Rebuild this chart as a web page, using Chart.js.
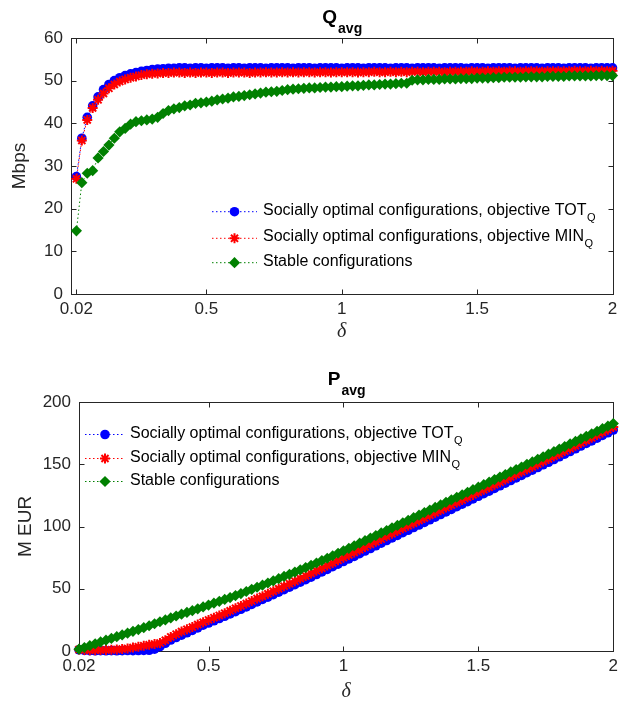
<!DOCTYPE html>
<html lang="en">
<head>
<meta charset="UTF-8">
<title>Q avg / P avg</title>
<script src="https://cdn.jsdelivr.net/npm/chart.js@4.4.1/dist/chart.umd.min.js"></script>
<style>
  html, body { margin: 0; padding: 0; background: #fff; }
  body { width: 623px; height: 703px; position: relative; overflow: hidden; }
  .box { position: absolute; left: 0; width: 623px; }
  #top { top: 0; height: 345px; }
  #bottom { top: 350px; height: 356px; }
</style>
</head>
<body>
<div class="box" id="top"><canvas id="qChart"></canvas></div>
<div class="box" id="bottom"><canvas id="pChart"></canvas></div>
<script>
// delta values (x axis)
var delta = [
  0.02, 0.04, 0.06, 0.08, 0.10, 0.12, 0.14, 0.16, 0.18, 0.20,
  0.22, 0.24, 0.26, 0.28, 0.30, 0.32, 0.34, 0.36, 0.38, 0.40,
  0.42, 0.44, 0.46, 0.48, 0.50, 0.52, 0.54, 0.56, 0.58, 0.60,
  0.62, 0.64, 0.66, 0.68, 0.70, 0.72, 0.74, 0.76, 0.78, 0.80,
  0.82, 0.84, 0.86, 0.88, 0.90, 0.92, 0.94, 0.96, 0.98, 1.00,
  1.02, 1.04, 1.06, 1.08, 1.10, 1.12, 1.14, 1.16, 1.18, 1.20,
  1.22, 1.24, 1.26, 1.28, 1.30, 1.32, 1.34, 1.36, 1.38, 1.40,
  1.42, 1.44, 1.46, 1.48, 1.50, 1.52, 1.54, 1.56, 1.58, 1.60,
  1.62, 1.64, 1.66, 1.68, 1.70, 1.72, 1.74, 1.76, 1.78, 1.80,
  1.82, 1.84, 1.86, 1.88, 1.90, 1.92, 1.94, 1.96, 1.98, 2.00
];

// Q_avg (Mbps)
var qTot = [
  27.5, 36.5, 41.4, 44.1, 46.2, 47.9, 49.1, 50.0, 50.7, 51.2,
  51.6, 51.9, 52.2, 52.4, 52.6, 52.7, 52.8, 52.9, 52.9, 53.0,
  53.0, 52.9, 53.0, 53.0, 52.9, 53.0, 53.0, 53.0, 52.9, 53.0,
  53.0, 52.9, 53.0, 53.0, 53.0, 52.9, 53.0, 53.0, 53.0, 53.0,
  52.9, 53.0, 53.0, 53.0, 52.9, 53.0, 53.0, 53.0, 53.0, 52.9,
  53.0, 53.0, 53.0, 52.9, 53.0, 53.0, 53.0, 53.0, 52.9, 53.0,
  53.0, 53.0, 52.9, 53.0, 53.0, 53.0, 53.0, 52.9, 53.0, 53.0,
  53.0, 53.0, 52.9, 53.0, 53.0, 53.0, 52.9, 53.0, 53.0, 53.0,
  53.0, 52.9, 53.0, 53.0, 53.0, 53.0, 52.9, 53.0, 53.0, 53.0,
  52.9, 53.0, 53.0, 53.0, 53.0, 52.9, 53.0, 53.0, 53.0, 53.0
];
var qMin = [
  27.0, 36.0, 40.8, 43.6, 45.5, 47.0, 48.2, 49.1, 49.8, 50.3,
  50.7, 51.0, 51.3, 51.5, 51.6, 51.7, 51.8, 51.8, 51.9, 51.9,
  51.8, 51.9, 51.8, 51.9, 51.9, 51.8, 51.9, 51.9, 51.8, 51.9,
  51.9, 51.9, 51.8, 51.9, 51.9, 52.0, 51.9, 51.9, 52.0, 51.9,
  52.0, 51.9, 52.0, 52.0, 51.9, 52.0, 52.0, 51.9, 52.0, 52.0,
  52.0, 52.0, 51.9, 52.0, 52.0, 52.1, 52.0, 52.0, 52.1, 52.0,
  52.1, 52.0, 52.1, 52.1, 52.0, 52.1, 52.1, 52.1, 52.0, 52.1,
  52.1, 52.1, 52.1, 52.2, 52.1, 52.1, 52.2, 52.1, 52.2, 52.1,
  52.2, 52.2, 52.1, 52.2, 52.2, 52.2, 52.1, 52.2, 52.2, 52.2,
  52.2, 52.2, 52.3, 52.2, 52.2, 52.3, 52.2, 52.3, 52.2, 52.3
];
var qStable = [
  14.8, 26.1, 28.3, 28.9, 31.9, 33.4, 34.9, 36.5, 38.0, 38.8,
  39.8, 40.4, 40.6, 40.8, 41.0, 41.4, 42.3, 43.0, 43.4, 43.7,
  44.1, 44.3, 44.7, 44.8, 45.0, 45.2, 45.5, 45.7, 45.9, 46.2,
  46.3, 46.5, 46.7, 46.9, 47.1, 47.3, 47.4, 47.5, 47.7, 47.9,
  48.0, 48.1, 48.2, 48.3, 48.3, 48.4, 48.5, 48.5, 48.6, 48.6,
  48.7, 48.8, 48.8, 48.9, 49.0, 49.0, 49.1, 49.2, 49.2, 49.3,
  49.4, 49.4, 50.1, 50.2, 50.2, 50.3, 50.3, 50.3, 50.4, 50.4,
  50.4, 50.5, 50.5, 50.5, 50.6, 50.6, 50.6, 50.7, 50.7, 50.8,
  50.8, 50.8, 50.8, 50.9, 50.9, 50.9, 50.9, 51.0, 51.0, 51.0,
  51.0, 51.1, 51.1, 51.1, 51.1, 51.1, 51.2, 51.2, 51.2, 51.2
];

// P_avg (M EUR)
var pTot = [
  1.0, 0.5, 0.3, 0.2, 0.3, 0.2, 0.3, 0.2, 0.3, 0.4,
  0.3, 0.4, 0.5, 0.6, 1.5, 3.5, 6.2, 8.8, 10.8, 12.7,
  14.6, 16.6, 18.6, 20.7, 22.5, 24.3, 26.1, 27.9, 29.8, 31.6,
  33.5, 35.4, 37.4, 39.4, 41.4, 43.3, 45.3, 47.3, 49.3, 51.3,
  53.3, 55.3, 57.3, 59.3, 61.4, 63.5, 65.6, 67.7, 69.8, 71.9,
  74.0, 76.0, 78.2, 80.3, 82.3, 84.5, 86.6, 88.7, 90.8, 92.9,
  95.0, 97.0, 99.2, 101.2, 103.3, 105.4, 107.5, 109.6, 111.7, 113.7,
  115.9, 118.0, 120.0, 122.2, 124.3, 126.4, 128.4, 130.6, 132.7, 134.8,
  136.9, 139.0, 141.0, 143.2, 145.3, 147.4, 149.6, 151.6, 153.8, 156.0,
  158.1, 160.2, 162.4, 164.6, 166.7, 168.8, 171.0, 173.2, 175.3, 177.5
];
var pMin = [
  1.2, 0.8, 0.6, 0.7, 0.8, 0.9, 1.0, 1.2, 1.6, 2.1,
  2.8, 3.5, 4.3, 5.0, 5.6, 6.4, 8.6, 11.3, 13.5, 15.6,
  17.4, 19.3, 21.2, 23.1, 25.0, 26.8, 28.6, 30.4, 32.3, 34.3,
  36.2, 38.1, 40.1, 42.1, 44.0, 46.0, 48.0, 50.0, 52.0, 54.1,
  56.1, 58.2, 60.3, 62.3, 64.4, 66.5, 68.6, 70.7, 72.8, 75.0,
  77.1, 79.2, 81.4, 83.5, 85.7, 87.8, 89.9, 92.1, 94.2, 96.4,
  98.5, 100.6, 102.7, 104.8, 106.9, 109.0, 111.1, 113.1, 115.2, 117.2,
  119.3, 121.3, 123.4, 125.4, 127.5, 129.5, 131.5, 133.6, 135.6, 137.7,
  139.8, 141.8, 143.9, 146.0, 148.0, 150.1, 152.2, 154.3, 156.4, 158.5,
  160.6, 162.7, 164.8, 167.0, 169.1, 171.2, 173.4, 175.6, 177.8, 180.0
];
var pStable = [
  1.5, 2.8, 4.3, 5.8, 7.3, 8.7, 10.1, 11.5, 12.9, 14.3,
  15.8, 17.2, 18.7, 20.3, 21.9, 23.5, 25.0, 26.6, 28.1, 29.6,
  31.0, 32.4, 33.9, 35.4, 36.9, 38.4, 39.9, 41.4, 42.9, 44.5,
  46.1, 47.8, 49.5, 51.2, 52.9, 54.6, 56.4, 58.1, 59.9, 61.6,
  63.4, 65.2, 67.0, 68.8, 70.7, 72.6, 74.5, 76.5, 78.5, 80.5,
  82.5, 84.5, 86.6, 88.6, 90.7, 92.7, 94.8, 96.8, 98.9, 100.9,
  103.0, 105.0, 107.1, 109.1, 111.2, 113.2, 115.3, 117.3, 119.4, 121.4,
  123.5, 125.5, 127.5, 129.6, 131.6, 133.6, 135.6, 137.7, 139.7, 141.7,
  143.8, 145.8, 147.8, 149.9, 151.9, 154.0, 156.0, 158.1, 160.1, 162.2,
  164.2, 166.3, 168.3, 170.4, 172.4, 174.5, 176.5, 178.6, 180.6, 182.7
];

var xTicks = [0.02, 0.5, 1, 1.5, 2];
var seriesNames = [
  ["Socially optimal configurations, objective TOT", "Q"],
  ["Socially optimal configurations, objective MIN", "Q"],
  ["Stable configurations", ""]
];

var SANS = '"Liberation Sans", Arial, Helvetica, sans-serif';
var AXIS = '#262626';
var looks = [
  {color: '#0000ff', style: 'circle', radius: 4.8, bw: 0},
  {color: '#ff0000', style: 'star', radius: 5, bw: 2},
  {color: '#008000', style: 'rectRot', radius: 5.6, bw: 0}
];

function pts(arr) {
  return delta.map(function (d, i) { return {x: d, y: arr[i]}; });
}

function dataset(arr, k) {
  var lk = looks[k];
  return {
    data: pts(arr),
    order: 3 - k,
    borderColor: lk.color,
    backgroundColor: lk.color,
    borderWidth: 1,
    borderDash: [1.5, 2.5],
    pointStyle: lk.style,
    pointRadius: lk.radius,
    pointBorderWidth: lk.bw,
    pointBorderColor: lk.color,
    pointBackgroundColor: lk.color,
    clip: false
  };
}

function marker(ctx, lk, x, y) {
  ctx.fillStyle = lk.color;
  ctx.strokeStyle = lk.color;
  ctx.lineWidth = lk.bw;
  Chart.helpers.drawPoint(ctx, {pointStyle: lk.style, radius: lk.radius, borderWidth: lk.bw, rotation: 0}, x, y);
}

// box, inward ticks, title with subscript, legend with subscripts
var framePlugin = {
  id: 'frame',
  beforeDatasetsDraw: function (chart) {
    var ctx = chart.ctx, a = chart.chartArea, sx = chart.scales.x, sy = chart.scales.y;
    ctx.save();
    ctx.strokeStyle = AXIS;
    ctx.lineWidth = 1;
    var l = Math.round(a.left) + 0.5, t = Math.round(a.top) + 0.5;
    var r = Math.round(a.right) + 0.5, b = Math.round(a.bottom) + 0.5;
    ctx.strokeRect(l, t, r - l, b - t);
    ctx.beginPath();
    sx.ticks.forEach(function (tk) {
      var px = Math.round(sx.getPixelForValue(tk.value)) + 0.5;
      ctx.moveTo(px, b); ctx.lineTo(px, b - 5);
      ctx.moveTo(px, t); ctx.lineTo(px, t + 5);
    });
    sy.ticks.forEach(function (tk) {
      var py = Math.round(sy.getPixelForValue(tk.value)) + 0.5;
      ctx.moveTo(l, py); ctx.lineTo(l + 5, py);
      ctx.moveTo(r, py); ctx.lineTo(r - 5, py);
    });
    ctx.stroke();
    ctx.restore();
  },
  afterDraw: function (chart, args, o) {
    var ctx = chart.ctx, a = chart.chartArea;
    ctx.save();
    // title
    ctx.fillStyle = '#000';
    ctx.textBaseline = 'alphabetic';
    ctx.font = 'bold 19px ' + SANS;
    var w1 = ctx.measureText(o.title).width;
    ctx.font = 'bold 14px ' + SANS;
    var w2 = ctx.measureText('avg').width;
    var x0 = (a.left + a.right) / 2 - (w1 + w2) / 2;
    ctx.font = 'bold 19px ' + SANS;
    ctx.textAlign = 'left';
    ctx.fillText(o.title, x0, o.titleY);
    ctx.font = 'bold 14px ' + SANS;
    ctx.fillText('avg', x0 + w1 + 1, o.titleY + 10);

    // legend
    for (var k = 0; k < 3; k++) {
      var lk = looks[k], y = o.rows[k];
      ctx.save();
      ctx.strokeStyle = lk.color;
      ctx.lineWidth = 1;
      ctx.setLineDash([1.5, 2.5]);
      ctx.beginPath();
      ctx.moveTo(o.lineX[0], y);
      ctx.lineTo(o.lineX[1], y);
      ctx.stroke();
      ctx.restore();
      marker(ctx, lk, (o.lineX[0] + o.lineX[1]) / 2, y);
      ctx.fillStyle = '#000';
      ctx.font = '16px ' + SANS;
      ctx.fillText(seriesNames[k][0], o.textX, y + 3);
      if (seriesNames[k][1]) {
        var w = ctx.measureText(seriesNames[k][0]).width;
        ctx.font = '11px ' + SANS;
        ctx.fillText(seriesNames[k][1], o.textX + w + 0.5, y + 9);
      }
    }
    ctx.restore();
  }
};

function makeChart(id, sets, cfg) {
  return new Chart(document.getElementById(id), {
    type: 'line',
    data: {datasets: sets},
    plugins: [framePlugin],
    options: {
      responsive: true,
      maintainAspectRatio: false,
      animation: false,
      events: [],
      layout: {padding: {left: 0, right: cfg.padRight, top: cfg.padTop, bottom: 0}},
      plugins: {
        legend: {display: false},
        tooltip: {enabled: false},
        frame: cfg.frame
      },
      scales: {
        x: {
          type: 'linear',
          min: cfg.xMin,
          max: 2,
          grid: {display: false, drawTicks: false},
          border: {display: false},
          afterBuildTicks: function (s) {
            s.ticks = xTicks.map(function (v) { return {value: v}; });
          },
          afterFit: function (s) { s.height = cfg.xHeight; },
          ticks: {
            padding: 5,
            autoSkip: false,
            maxRotation: 0,
            color: AXIS,
            font: {family: SANS, size: 17},
            callback: function (v) { return String(v); }
          },
          title: {
            display: true,
            text: 'δ',
            color: AXIS,
            font: {family: '"Liberation Serif", "DejaVu Serif", serif', size: 20, style: 'italic'},
            padding: {top: 0, bottom: cfg.xTitlePad}
          }
        },
        y: {
          min: 0,
          max: cfg.yMax,
          grid: {display: false, drawTicks: false},
          border: {display: false},
          afterFit: function (s) { s.width = cfg.yWidth; },
          ticks: {
            stepSize: cfg.yStep,
            padding: 8,
            color: AXIS,
            font: {family: SANS, size: 17}
          },
          title: {
            display: true,
            text: cfg.yLabel,
            color: AXIS,
            font: {family: SANS, size: 19},
            padding: {top: cfg.yTitlePad, bottom: 0}
          }
        }
      }
    }
  });
}

makeChart('qChart', [dataset(qTot, 0), dataset(qMin, 1), dataset(qStable, 2)], {
  xMin: 0, yMax: 60, yStep: 10, yLabel: 'Mbps',
  padRight: 10.5, padTop: 38, xHeight: 51, yWidth: 71,
  xTitlePad: 1, yTitlePad: 8,
  frame: {title: 'Q', titleY: 23, rows: [211.7, 238.3, 262.7], lineX: [212, 257], textX: 263}
});

makeChart('pChart', [dataset(pTot, 0), dataset(pMin, 1), dataset(pStable, 2)], {
  xMin: 0.02, yMax: 200, yStep: 50, yLabel: 'M EUR',
  padRight: 9.5, padTop: 52, xHeight: 55, yWidth: 79,
  xTitlePad: 2, yTitlePad: 14,
  frame: {title: 'P', titleY: 35, rows: [84.5, 108.5, 131.5], lineX: [85, 125], textX: 130}
});
</script>
</body>
</html>
